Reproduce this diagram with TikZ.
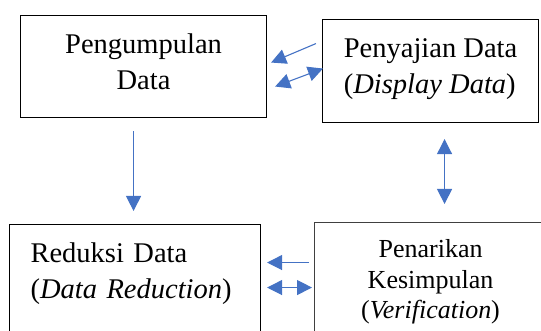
\documentclass[tikz,border=0pt]{standalone}
\usepackage{fontspec}
\setmainfont{Liberation Serif}
\usepackage{xcolor}
\usepackage{tikz}
\usetikzlibrary{arrows.meta}
\definecolor{arrowblue}{HTML}{4472C4}

\begin{document}
\begin{tikzpicture}[
        x=1pt, y=1pt,
        stage/.style={draw, line width=1.1pt, anchor=north west,
            inner xsep=0pt, inner ysep=0pt,
            font=\fontsize{28.5}{36}\selectfont},
        flow/.style={draw=arrowblue, line width=1.1pt,
            -{Triangle[length=15pt,width=15pt]}},
        both/.style={flow,
            {Triangle[length=15pt,width=15pt]}-{Triangle[length=15pt,width=15pt]}}
    ]
        \useasboundingbox (0,0) rectangle (541,331);

        \node[stage, minimum width=246pt, align=center,
            text height=74pt, text depth=28pt] (collect) at (20,316)
            {Pengumpulan\\Data};
        \node[stage, minimum width=216pt, align=left,
            text height=74.3pt, text depth=28.7pt] (display) at (322,312)
            {Penyajian Data\\(\textit{Display Data})};
        \node[stage, text width=209pt, inner xsep=21pt, align=left,
            text height=38pt, text depth=90pt] (reduce) at (9,107)
            {Reduksi Data\\(\textit{Data Reduction})};
        \node[stage, draw=black!75, minimum width=232pt, align=center,
            font=\fontsize{26}{30.5}\selectfont,
            text height=96pt, text depth=34pt] (verify) at (314,109)
            {Penarikan\\Kesimpulan\\(\textit{Verification})};

        \draw[flow] ([shift={(-6,27.5)}]display.west) -- ([shift={(4,4)}]collect.east);
        \draw[both] ([shift={(8,-20)}]collect.east) -- ([shift={(1,2.5)}]display.west);
        \draw[flow] ([shift={(-10,-13)}]collect.south) -- ([shift={(-1.5,13)}]reduce.north);
        \draw[both] ([shift={(14,-16)}]display.south) -- ([shift={(14,18)}]verify.north);
        \draw[flow] ([shift={(-5,25)}]verify.west) -- ([shift={(6,26)}]reduce.east);
        \draw[both] ([shift={(6,1)}]reduce.east) -- ([shift={(-2,0)}]verify.west);
\end{tikzpicture}
\end{document}
